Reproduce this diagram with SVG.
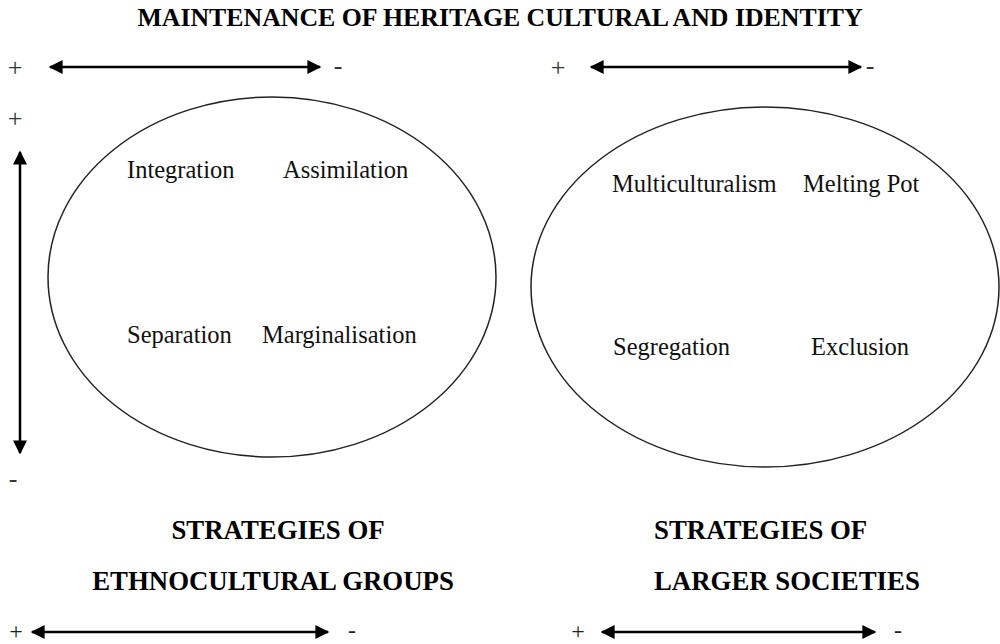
<svg xmlns="http://www.w3.org/2000/svg" width="1000" height="644" viewBox="0 0 1000 644">
  <style>
    .title { font-family: "Liberation Serif", "Times New Roman", serif; font-weight: bold; font-size: 25.8px; fill: #000; }
    .head { font-family: "Liberation Serif", "Times New Roman", serif; font-weight: bold; font-size: 26.8px; fill: #000; }
    .label { font-family: "Liberation Serif", "Times New Roman", serif; font-size: 24.5px; fill: #111; }
    .sign { font-family: "Liberation Serif", "Times New Roman", serif; font-size: 26px; fill: #333; }
    .sign-low { font-family: "Liberation Serif", "Times New Roman", serif; font-size: 24px; fill: #222; }
    .ring { fill: none; stroke: #222; stroke-width: 1.5; }
    .axis { fill: none; stroke: #000; stroke-width: 2.5; }
  </style>
  <defs>
    <marker id="head" viewBox="0 0 10 10" refX="9" refY="5" markerWidth="6" markerHeight="5.6" markerUnits="strokeWidth" orient="auto-start-reverse">
      <path d="M0,0 L10,5 L0,10 Z" fill="#000"/>
    </marker>
  </defs>
  <rect width="1000" height="644" fill="#fff"/>

  <text class="title" x="500" y="26" text-anchor="middle">MAINTENANCE OF HERITAGE CULTURAL AND IDENTITY</text>

  <!-- axes -->
  <g id="connectors">
    <line class="axis" x1="50" y1="67" x2="320" y2="67" marker-start="url(#head)" marker-end="url(#head)"/>
    <line class="axis" x1="591" y1="67" x2="861" y2="67" marker-start="url(#head)" marker-end="url(#head)"/>
    <line class="axis" x1="20" y1="152" x2="20" y2="453" marker-start="url(#head)" marker-end="url(#head)"/>
    <line class="axis" x1="32" y1="632" x2="328" y2="632" marker-start="url(#head)" marker-end="url(#head)"/>
    <line class="axis" x1="602" y1="632" x2="875" y2="632" marker-start="url(#head)" marker-end="url(#head)"/>
  </g>

  <!-- axis end signs -->
  <g id="signs">
    <text class="sign" x="15" y="76" text-anchor="middle">+</text>
    <text class="sign" x="338" y="74" text-anchor="middle">-</text>
    <text class="sign" x="15" y="127" text-anchor="middle">+</text>
    <text class="sign" x="558" y="76" text-anchor="middle">+</text>
    <text class="sign" x="870" y="74" text-anchor="middle">-</text>
    <text class="sign" x="13" y="487" text-anchor="middle">-</text>
    <text class="sign-low" x="16" y="639" text-anchor="middle">+</text>
    <text class="sign-low" x="352" y="638" text-anchor="middle">-</text>
    <text class="sign-low" x="578" y="639" text-anchor="middle">+</text>
    <text class="sign-low" x="898" y="638" text-anchor="middle">-</text>
  </g>

  <!-- ethnocultural group strategies -->
  <g id="ethnocultural">
    <ellipse class="ring" cx="272" cy="277" rx="224" ry="180"/>
    <text class="label" x="127" y="178">Integration</text>
    <text class="label" x="283" y="178">Assimilation</text>
    <text class="label" x="127" y="343">Separation</text>
    <text class="label" x="262" y="343">Marginalisation</text>
    <text class="head" x="278" y="539" text-anchor="middle">STRATEGIES OF</text>
    <text class="head" x="273" y="590" text-anchor="middle">ETHNOCULTURAL GROUPS</text>
  </g>

  <!-- larger society strategies -->
  <g id="larger-society">
    <ellipse class="ring" cx="765" cy="287" rx="234" ry="180"/>
    <text class="label" x="612" y="192">Multiculturalism</text>
    <text class="label" x="803" y="192">Melting Pot</text>
    <text class="label" x="613" y="355">Segregation</text>
    <text class="label" x="811" y="355">Exclusion</text>
    <text class="head" x="654" y="539">STRATEGIES OF</text>
    <text class="head" x="654" y="590">LARGER SOCIETIES</text>
  </g>
</svg>
